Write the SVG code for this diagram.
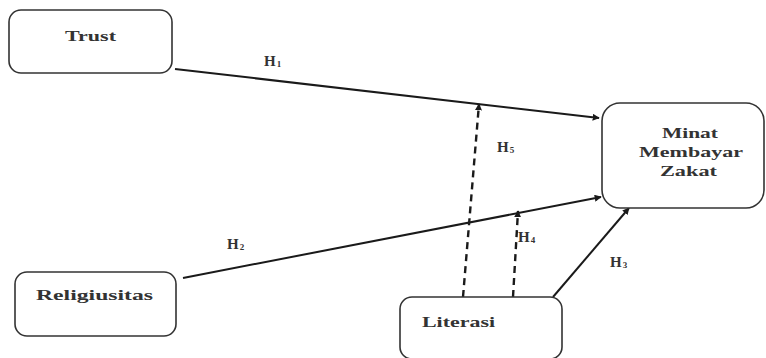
<svg xmlns="http://www.w3.org/2000/svg" width="766" height="358" viewBox="0 0 766 358">
  <defs>
    <marker id="arrow" viewBox="0 0 10 10" refX="9" refY="5" markerWidth="7" markerHeight="7" markerUnits="userSpaceOnUse" orient="auto">
      <path d="M0,0 L10,5 L0,10 z" fill="#1a1a1a"/>
    </marker>
  </defs>
  <style>
    .box { fill: #ffffff; stroke: #333333; stroke-width: 1.6; }
    .t { font-family: 'Liberation Serif', 'Times New Roman', serif; font-size: 15px; font-weight: bold; fill: #333333; }
    .sub { font-size: 9px; }
    .solid { stroke: #1a1a1a; stroke-width: 2; fill: none; }
    .dash { stroke: #1a1a1a; stroke-width: 2.4; fill: none; stroke-dasharray: 7 5; }
  </style>
  <rect width="766" height="358" fill="#ffffff"/>

  <g id="connectors">
    <line class="solid" x1="175" y1="69" x2="599" y2="118" marker-end="url(#arrow)"/>
    <line class="solid" x1="183" y1="278" x2="601" y2="197" marker-end="url(#arrow)"/>
    <line class="solid" x1="553" y1="297" x2="629" y2="208" marker-end="url(#arrow)"/>
    <line class="dash" x1="463" y1="297" x2="479" y2="104" marker-end="url(#arrow)"/>
    <line class="dash" x1="513" y1="297" x2="518" y2="211" marker-end="url(#arrow)"/>
    <text class="t" x="264" y="66">H<tspan class="sub" dx="1" dy="1">1</tspan></text>
    <text class="t" x="227" y="249">H<tspan class="sub" dx="1" dy="1">2</tspan></text>
    <text class="t" x="610" y="267">H<tspan class="sub" dx="1" dy="1">3</tspan></text>
    <text class="t" x="518" y="242">H<tspan class="sub" dx="1" dy="1">4</tspan></text>
    <text class="t" x="497" y="152">H<tspan class="sub" dx="1" dy="1">5</tspan></text>
  </g>

  <g id="trust">
    <rect class="box" x="9" y="10" width="163" height="63" rx="12"/>
    <text class="t" x="65" y="41" textLength="51" lengthAdjust="spacingAndGlyphs">Trust</text>
  </g>

  <g id="minat">
    <rect class="box" x="602" y="103" width="162" height="105" rx="18"/>
    <text class="t" x="662" y="138" textLength="56" lengthAdjust="spacingAndGlyphs">Minat</text>
    <text class="t" x="639" y="157" textLength="104" lengthAdjust="spacingAndGlyphs">Membayar</text>
    <text class="t" x="660" y="176" textLength="57" lengthAdjust="spacingAndGlyphs">Zakat</text>
  </g>

  <g id="religiusitas">
    <rect class="box" x="15" y="272" width="161" height="64" rx="12"/>
    <text class="t" x="36" y="300" textLength="117" lengthAdjust="spacingAndGlyphs">Religiusitas</text>
  </g>

  <g id="literasi">
    <rect class="box" x="400" y="297" width="162" height="62" rx="12"/>
    <text class="t" x="422" y="327" textLength="73" lengthAdjust="spacingAndGlyphs">Literasi</text>
  </g>
</svg>
